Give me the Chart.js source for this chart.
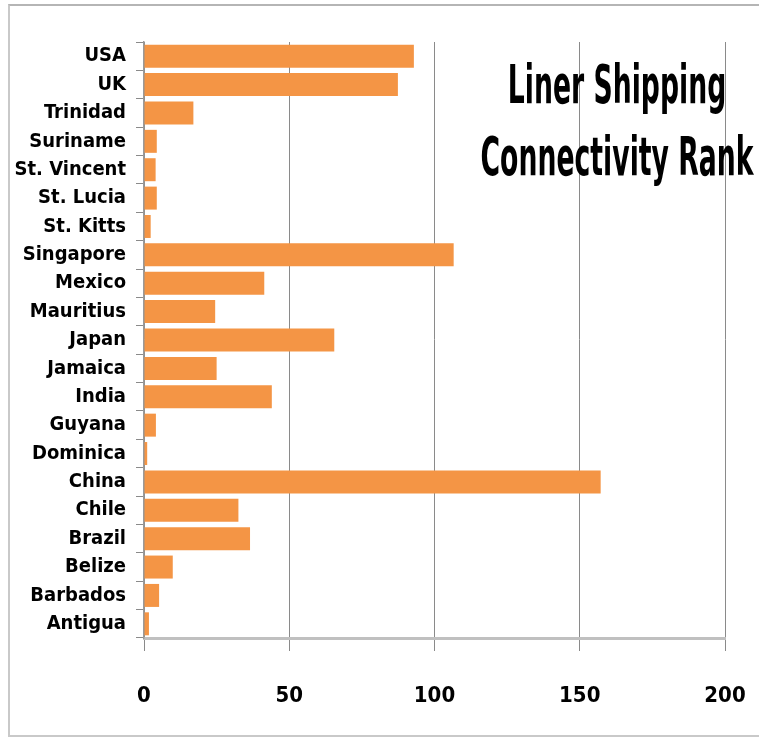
<!DOCTYPE html>
<html>
<head>
<meta charset="utf-8">
<script src="https://cdn.jsdelivr.net/npm/chart.js@4"></script>
<style>
  html, body { margin: 0; padding: 0; background: #ffffff; }
  #wrap { position: relative; width: 759px; height: 750px; overflow: hidden; }
  #frame { position: absolute; left: 8px; top: 4px; width: 800px; height: 729px;
           border: 2px solid #c9c9c9; border-top-color: #b5b5b5; }
  #c { position: absolute; left: 0; top: 0; }
</style>
</head>
<body>
<div id="wrap">
  <div id="frame"></div>
  <canvas id="c" width="759" height="750"></canvas>
</div>
<script>
const categories = ["USA", "UK", "Trinidad", "Suriname", "St. Vincent", "St. Lucia", "St. Kitts",
  "Singapore", "Mexico", "Mauritius", "Japan", "Jamaica", "India", "Guyana", "Dominica",
  "China", "Chile", "Brazil", "Belize", "Barbados", "Antigua"];
const connectivity = [92.9, 87.4, 17.0, 4.4, 4.0, 4.4, 2.3,
  106.6, 41.4, 24.5, 65.5, 25.0, 44.0, 4.1, 1.1,
  157.2, 32.5, 36.5, 9.9, 5.2, 1.7];
const xTicks = [0, 50, 100, 150, 200];
const titleLines = ["Liner Shipping", "Connectivity Rank"];

const FONT = '"DejaVu Sans Condensed", "Liberation Sans Narrow", "DejaVu Sans", sans-serif';

const titlePlugin = {
  id: 'insideTitle',
  afterDraw(chart) {
    const ctx = chart.ctx;
    const area = chart.chartArea;
    ctx.save();
    ctx.fillStyle = '#000000';
    ctx.font = 'bold 54px ' + FONT;
    ctx.textAlign = 'center';
    ctx.textBaseline = 'alphabetic';
    const sx = 273 / ctx.measureText(titleLines[1]).width;
    const cx = area.right - 108;
    const baselines = [area.top + 61, area.top + 133];
    titleLines.forEach((t, i) => {
      ctx.save();
      ctx.translate(cx, baselines[i]);
      ctx.scale(sx, 1);
      ctx.fillText(t, 0, 0);
      ctx.restore();
    });
    ctx.restore();
  }
};

new Chart(document.getElementById('c'), {
  type: 'bar',
  data: {
    labels: categories,
    datasets: [{
      data: connectivity,
      backgroundColor: '#F49545',
      borderWidth: 0,
      categoryPercentage: 1.0,
      barPercentage: 0.81
    }]
  },
  options: {
    indexAxis: 'y',
    responsive: false,
    animation: false,
    layout: { padding: { left: 0, right: 34, top: 42, bottom: 0 } },
    plugins: { legend: { display: false }, tooltip: { enabled: false }, title: { display: false } },
    scales: {
      x: {
        type: 'linear',
        min: 0, max: 200,
        afterBuildTicks(s) { s.ticks = xTicks.map(v => ({ value: v })); },
        afterFit(s) { s.height = 112; s.paddingLeft = 0; s.paddingRight = 0; },
        grid: { color: '#8a8a8a', lineWidth: 1, drawTicks: true, tickLength: 13, tickColor: '#8a8a8a' },
        border: { color: '#c0c0c0', width: 3 },
        ticks: { color: '#000000', padding: 32, font: { family: FONT, size: 22, weight: 'bold' } }
      },
      y: {
        afterFit(s) { s.width = 144; s.paddingTop = 0; s.paddingBottom = 0; },
        grid: { drawOnChartArea: false, drawTicks: true, tickLength: 8, color: '#8a8a8a' },
        border: { color: '#9a9a9a', width: 1.5 },
        ticks: { color: '#000000', padding: 10, autoSkip: false, font: { family: FONT, size: 20, weight: 'bold' } }
      }
    }
  },
  plugins: [titlePlugin]
});
</script>
</body>
</html>
